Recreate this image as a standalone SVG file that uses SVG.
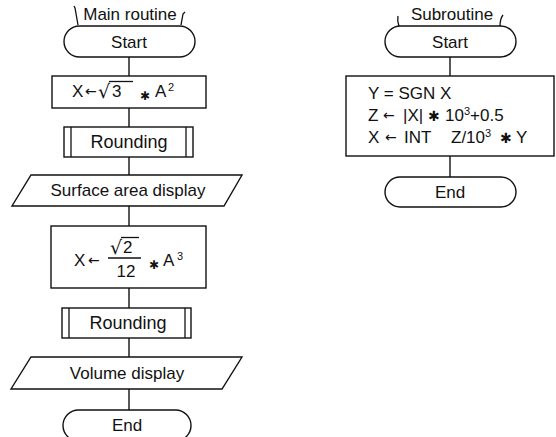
<svg xmlns="http://www.w3.org/2000/svg" width="556" height="437" viewBox="0 0 556 437">
<style>
.s{fill:#fff;stroke:#111;stroke-width:1.4}
.b{fill:none;stroke:#111;stroke-width:1.3}
.c{fill:none;stroke:#111;stroke-width:1.4}
text{font-family:"Liberation Sans",Arial,sans-serif;font-size:17px;fill:#111}
.m{text-anchor:middle}
.sym{font-family:"DejaVu Sans",sans-serif}
.ar{font-family:"DejaVu Sans",sans-serif;font-size:14px}
.st{font-family:"DejaVu Sans",sans-serif;font-size:14px}
.sp{font-size:11px}
</style>
<rect width="556" height="437" fill="#fff"/>
<g id="connectors">
<line class="c" x1="129" y1="57" x2="129" y2="76"/>
<line class="c" x1="129" y1="108" x2="129" y2="127"/>
<line class="c" x1="129" y1="157" x2="129" y2="175"/>
<line class="c" x1="129" y1="206" x2="129" y2="226"/>
<line class="c" x1="129" y1="288" x2="129" y2="308"/>
<line class="c" x1="129" y1="338" x2="129" y2="357"/>
<line class="c" x1="129" y1="389" x2="129" y2="410"/>
<line class="c" x1="450" y1="57" x2="450" y2="76"/>
<line class="c" x1="450" y1="156" x2="450" y2="177"/>
</g>
<g id="main-label">
<path class="b" d="M74,6 L75,8 L78,25"/>
<path class="b" d="M185,12 L183,14 L181,25"/>
<text class="m" x="130" y="20">Main routine</text>
</g>
<g id="main-start">
<rect class="s" x="64" y="26" width="131" height="31" rx="15.5"/>
<text class="m" x="129" y="47.5">Start</text>
</g>
<g id="main-calc1">
<rect class="s" x="52" y="76" width="154" height="32"/>
<text x="72" y="97">X</text>
<text class="ar" x="85" y="96">←</text>
<text class="sym" x="98" y="98" style="font-size:19px">√</text>
<line class="b" x1="109" y1="81.5" x2="133" y2="81.5"/>
<text x="112" y="97">3</text>
<text class="st" x="140" y="100" style="font-size:12px">✱</text>
<text x="155" y="97">A</text>
<text class="sp" x="168" y="91">2</text>
</g>
<g id="main-round1">
<rect class="s" x="64" y="127" width="129" height="30"/>
<line class="b" x1="71" y1="127" x2="71" y2="157"/>
<line class="b" x1="186" y1="127" x2="186" y2="157"/>
<text class="m" x="129" y="148" style="font-size:18px">Rounding</text>
</g>
<g id="main-surface">
<polygon class="s" points="31,175 242,175 224,206 12,206"/>
<text class="m" x="128" y="196">Surface area display</text>
</g>
<g id="main-calc2">
<rect class="s" x="51" y="226" width="155" height="62"/>
<text x="74" y="266">X</text>
<text class="ar" x="88" y="265">←</text>
<text class="sym" x="110" y="254" style="font-size:19px">√</text>
<line class="b" x1="121" y1="237.5" x2="139" y2="237.5"/>
<text x="123" y="253">2</text>
<line class="b" x1="108" y1="258" x2="141" y2="258"/>
<text class="m" x="126" y="277">12</text>
<text class="st" x="149" y="269" style="font-size:12px">✱</text>
<text x="163" y="266">A</text>
<text class="sp" x="177" y="260">3</text>
</g>
<g id="main-round2">
<rect class="s" x="62" y="308" width="129" height="30"/>
<line class="b" x1="69" y1="308" x2="69" y2="338"/>
<line class="b" x1="185" y1="308" x2="185" y2="338"/>
<text class="m" x="128" y="329" style="font-size:18px">Rounding</text>
</g>
<g id="main-volume">
<polygon class="s" points="31,357 242,357 222,389 11,389"/>
<text class="m" x="127" y="379">Volume display</text>
</g>
<g id="main-end">
<rect class="s" x="63" y="410" width="128" height="31" rx="15.5"/>
<text class="m" x="127" y="431">End</text>
</g>
<g id="sub-label">
<path class="b" d="M398,16 Q397,21 399,26"/>
<path class="b" d="M503,15 Q500,19 500,26"/>
<text class="m" x="452" y="20">Subroutine</text>
</g>
<g id="sub-start">
<rect class="s" x="385" y="26" width="131" height="31" rx="15.5"/>
<text class="m" x="450" y="47.5">Start</text>
</g>
<g id="sub-calc">
<rect class="s" x="346" y="76" width="208" height="80"/>
<text x="368" y="99">Y = SGN X</text>
<text x="368" y="121">Z</text>
<text class="ar" x="383" y="120">←</text>
<text x="403" y="121">|X|</text>
<text class="st" x="428" y="121">✱</text>
<text x="445" y="121">10<tspan class="sp" dy="-6">3</tspan><tspan dy="6">+0.5</tspan></text>
<text x="368" y="143">X</text>
<text class="ar" x="385" y="142">←</text>
<text x="404" y="143">INT</text>
<text x="451" y="143">Z/10<tspan class="sp" dy="-6">3</tspan></text>
<text class="st" x="500" y="143">✱</text>
<text x="516" y="143">Y</text>
</g>
<g id="sub-end">
<rect class="s" x="385" y="177" width="131" height="30" rx="15"/>
<text class="m" x="450" y="198">End</text>
</g>
</svg>
